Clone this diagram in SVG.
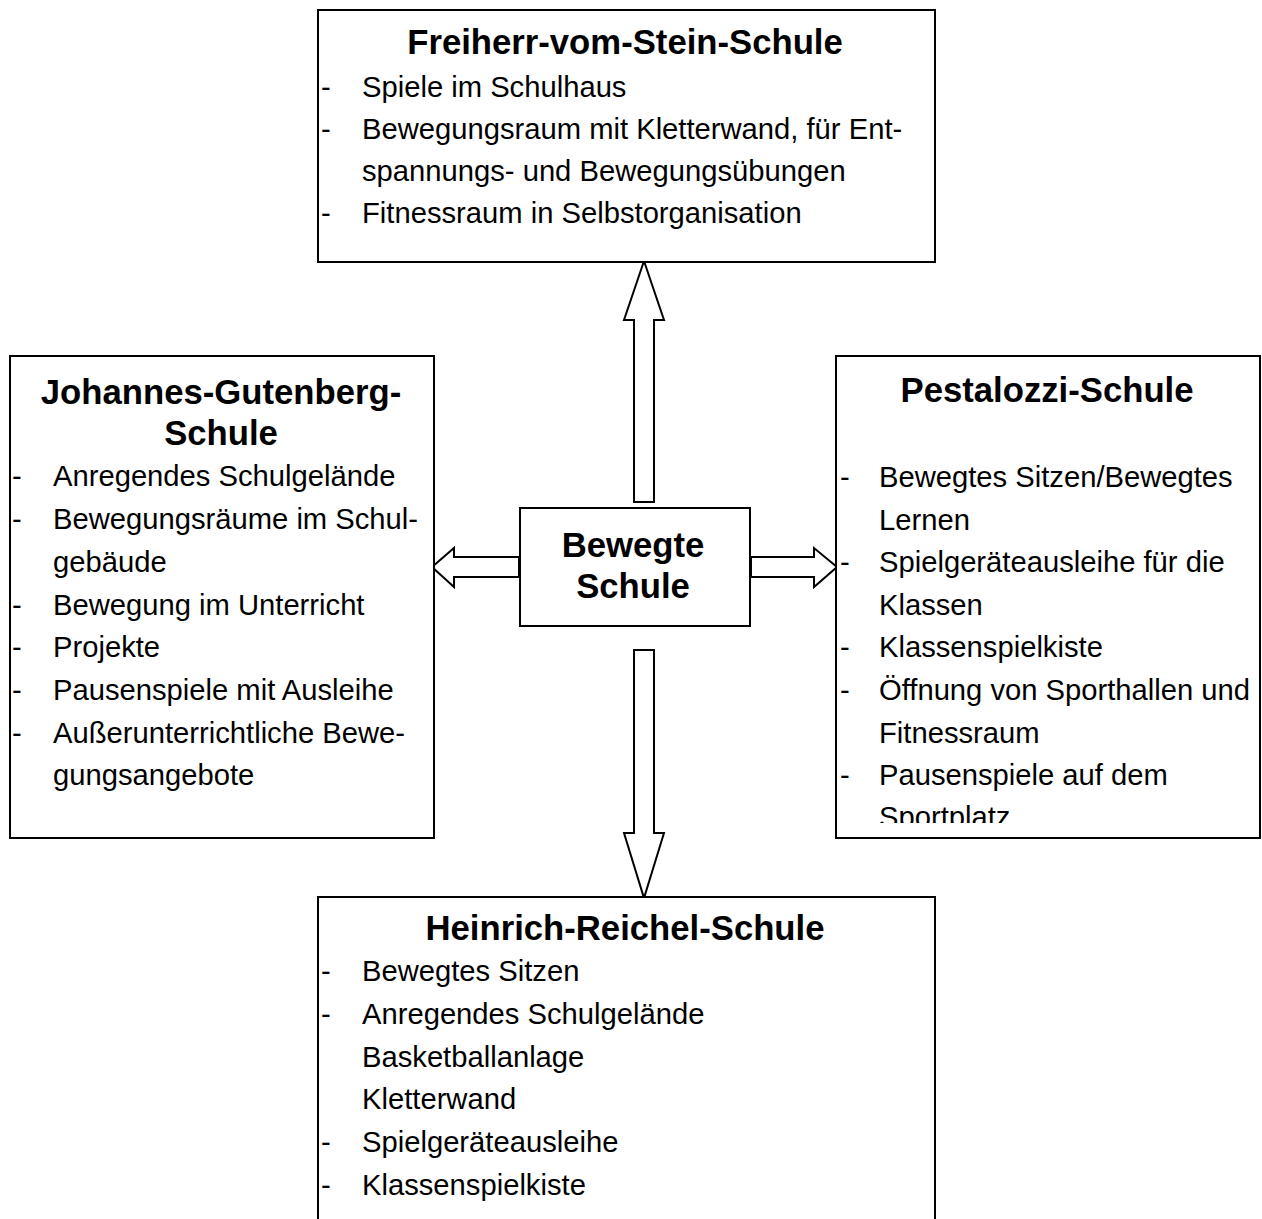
<svg xmlns="http://www.w3.org/2000/svg" width="1262" height="1219" viewBox="0 0 1262 1219">
<style>
.box{fill:#fff;stroke:#000;stroke-width:2}
.arr{fill:#fff;stroke:#000;stroke-width:2;stroke-linejoin:miter}
.t{font-family:"Liberation Sans",Arial,sans-serif;font-weight:bold;font-size:34.7px;fill:#000}
.b{font-family:"Liberation Sans",Arial,sans-serif;font-size:29.2px;fill:#000}
</style>
<defs>
<clipPath id="clipR"><rect x="836" y="356" width="424" height="467"/></clipPath>
</defs>
<rect width="1262" height="1219" fill="#fff"/>
<g id="connectors">
<polygon class="arr" points="634,502 634,320 624,320 644,261 664,320 654,320 654,502"/>
<polygon class="arr" points="634,650 654,650 654,833 664,833 644,898 624,833 634,833"/>
<polygon class="arr" points="519,557 454,557 454,548 432,567 454,587 454,577 519,577"/>
<polygon class="arr" points="751,557 814,557 814,548 837,567 814,587 814,577 751,577"/>
</g>
<g id="top">
<rect class="box" x="318" y="10" width="617" height="252"/>
<text class="t" x="625" y="54" text-anchor="middle">Freiherr-vom-Stein-Schule</text>
<text class="b" x="321" y="97">-</text><text class="b" x="362" y="97">Spiele im Schulhaus</text>
<text class="b" x="321" y="139">-</text><text class="b" x="362" y="139">Bewegungsraum mit Kletterwand, für Ent-</text>
<text class="b" x="362" y="181">spannungs- und Bewegungsübungen</text>
<text class="b" x="321" y="223">-</text><text class="b" x="362" y="223">Fitnessraum in Selbstorganisation</text>
</g>
<g id="left">
<rect class="box" x="10" y="356" width="424" height="482"/>
<text class="t" x="221" y="404" text-anchor="middle">Johannes-Gutenberg-</text>
<text class="t" x="221" y="445" text-anchor="middle">Schule</text>
<text class="b" x="12" y="486">-</text><text class="b" x="53" y="486">Anregendes Schulgelände</text>
<text class="b" x="12" y="529">-</text><text class="b" x="53" y="529">Bewegungsräume im Schul-</text>
<text class="b" x="53" y="572">gebäude</text>
<text class="b" x="12" y="615">-</text><text class="b" x="53" y="615">Bewegung im Unterricht</text>
<text class="b" x="12" y="657">-</text><text class="b" x="53" y="657">Projekte</text>
<text class="b" x="12" y="700">-</text><text class="b" x="53" y="700">Pausenspiele mit Ausleihe</text>
<text class="b" x="12" y="743">-</text><text class="b" x="53" y="743">Außerunterrichtliche Bewe-</text>
<text class="b" x="53" y="785">gungsangebote</text>
</g>
<g id="right">
<rect class="box" x="836" y="356" width="424" height="482"/>
<text class="t" x="1047" y="402" text-anchor="middle">Pestalozzi-Schule</text>
<g clip-path="url(#clipR)">
<text class="b" x="840" y="487">-</text><text class="b" x="879" y="487">Bewegtes Sitzen/Bewegtes</text>
<text class="b" x="879" y="530">Lernen</text>
<text class="b" x="840" y="572">-</text><text class="b" x="879" y="572">Spielgeräteausleihe für die</text>
<text class="b" x="879" y="615">Klassen</text>
<text class="b" x="840" y="657">-</text><text class="b" x="879" y="657">Klassenspielkiste</text>
<text class="b" x="840" y="700">-</text><text class="b" x="879" y="700">Öffnung von Sporthallen und</text>
<text class="b" x="879" y="743">Fitnessraum</text>
<text class="b" x="840" y="785">-</text><text class="b" x="879" y="785">Pausenspiele auf dem</text>
<text class="b" x="879" y="827">Sportplatz</text>
</g>
</g>
<g id="center">
<rect class="box" x="520" y="508" width="230" height="118"/>
<text class="t" x="633" y="557" text-anchor="middle">Bewegte</text>
<text class="t" x="633" y="598" text-anchor="middle">Schule</text>
</g>
<g id="bottom">
<path class="box" d="M318,1222 V897 H935 V1222"/>
<text class="t" x="625" y="940" text-anchor="middle">Heinrich-Reichel-Schule</text>
<text class="b" x="321" y="981">-</text><text class="b" x="362" y="981">Bewegtes Sitzen</text>
<text class="b" x="321" y="1024">-</text><text class="b" x="362" y="1024">Anregendes Schulgelände</text>
<text class="b" x="362" y="1067">Basketballanlage</text>
<text class="b" x="362" y="1109">Kletterwand</text>
<text class="b" x="321" y="1152">-</text><text class="b" x="362" y="1152">Spielgeräteausleihe</text>
<text class="b" x="321" y="1195">-</text><text class="b" x="362" y="1195">Klassenspielkiste</text>
</g>
</svg>
